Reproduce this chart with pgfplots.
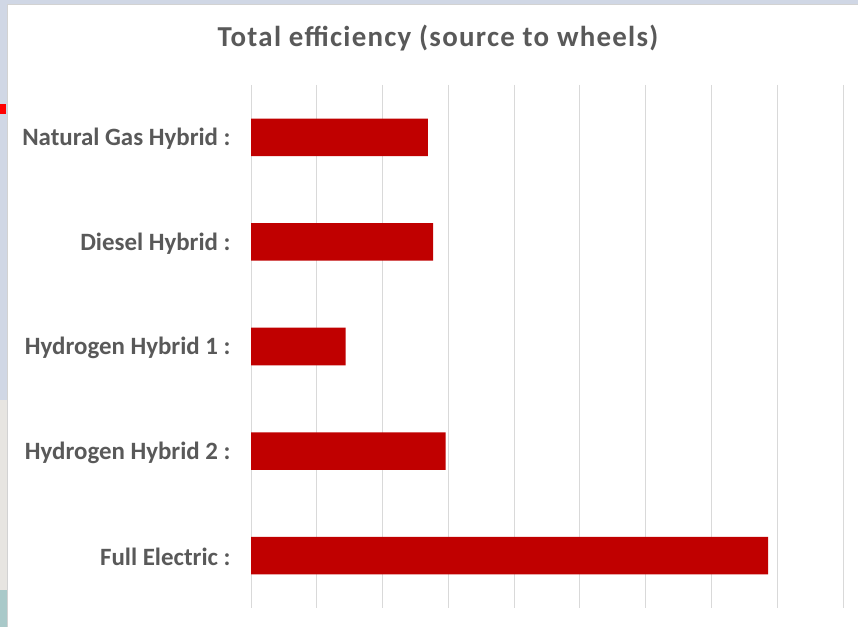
\documentclass[border=0pt]{standalone}
\usepackage{fontspec}
\setmainfont{Carlito}
\newfontfamily\titlefont{Carlito}[LetterSpace=4.4]
\usepackage{pgfplots}
\pgfplotsset{compat=1.18}
\definecolor{txt}{HTML}{595959}
\definecolor{barred}{HTML}{C00000}
\definecolor{gridc}{HTML}{D9D9D9}
\definecolor{stripa}{HTML}{D0D7E5}
\definecolor{stripb}{HTML}{E7E5E1}
\definecolor{stripc}{HTML}{A9C9C9}
\begin{document}
\begin{tikzpicture}[x=1bp,y=1bp]
\useasboundingbox (0,0) rectangle (858,627);
\fill[white] (0,0) rectangle (858,627);
\fill[stripa] (0,627) rectangle (7,227);
\fill[stripb] (0,227) rectangle (7,37);
\fill[stripc] (0,37) rectangle (7,0);
\fill[red] (0,523) rectangle (6,513);
\fill[stripa] (0,627) rectangle (858,623);
\draw[gray!35] (7.5,0) -- (7.5,623) -- (858,623);
\begin{axis}[
  at={(251bp,19bp)}, anchor=south west,
  scale only axis, width=592bp, height=523bp,
  xbar, xmin=0, xmax=90, ymin=-0.5, ymax=4.5,
  y dir=reverse,
  ytick={0,1,2,3,4},
  yticklabels={Natural Gas Hybrid :, Diesel Hybrid :, Hydrogen Hybrid 1 :, Hydrogen Hybrid 2 :, Full Electric :},
  xtick={0,10,...,90}, xticklabels={},
  xmajorgrids, major grid style={draw=gridc, line width=1bp},
  axis line style={draw=none}, tick style={draw=none},
  bar width=37.5bp,
  yticklabel style={font=\fontsize{25}{30}\selectfont\bfseries, text=txt, inner sep=0pt, anchor=east, xshift=-16bp, yshift=-1.5bp},
]
\addplot[fill=barred, draw=none] coordinates {(26.9,0) (27.7,1) (14.4,2) (29.6,3) (78.6,4)};
\end{axis}
\node[anchor=base, inner sep=0pt, font=\titlefont\fontsize{29}{34}\selectfont\bfseries, text=txt] at (438,580) {Total efficiency (source to wheels)};
\end{tikzpicture}
\end{document}
